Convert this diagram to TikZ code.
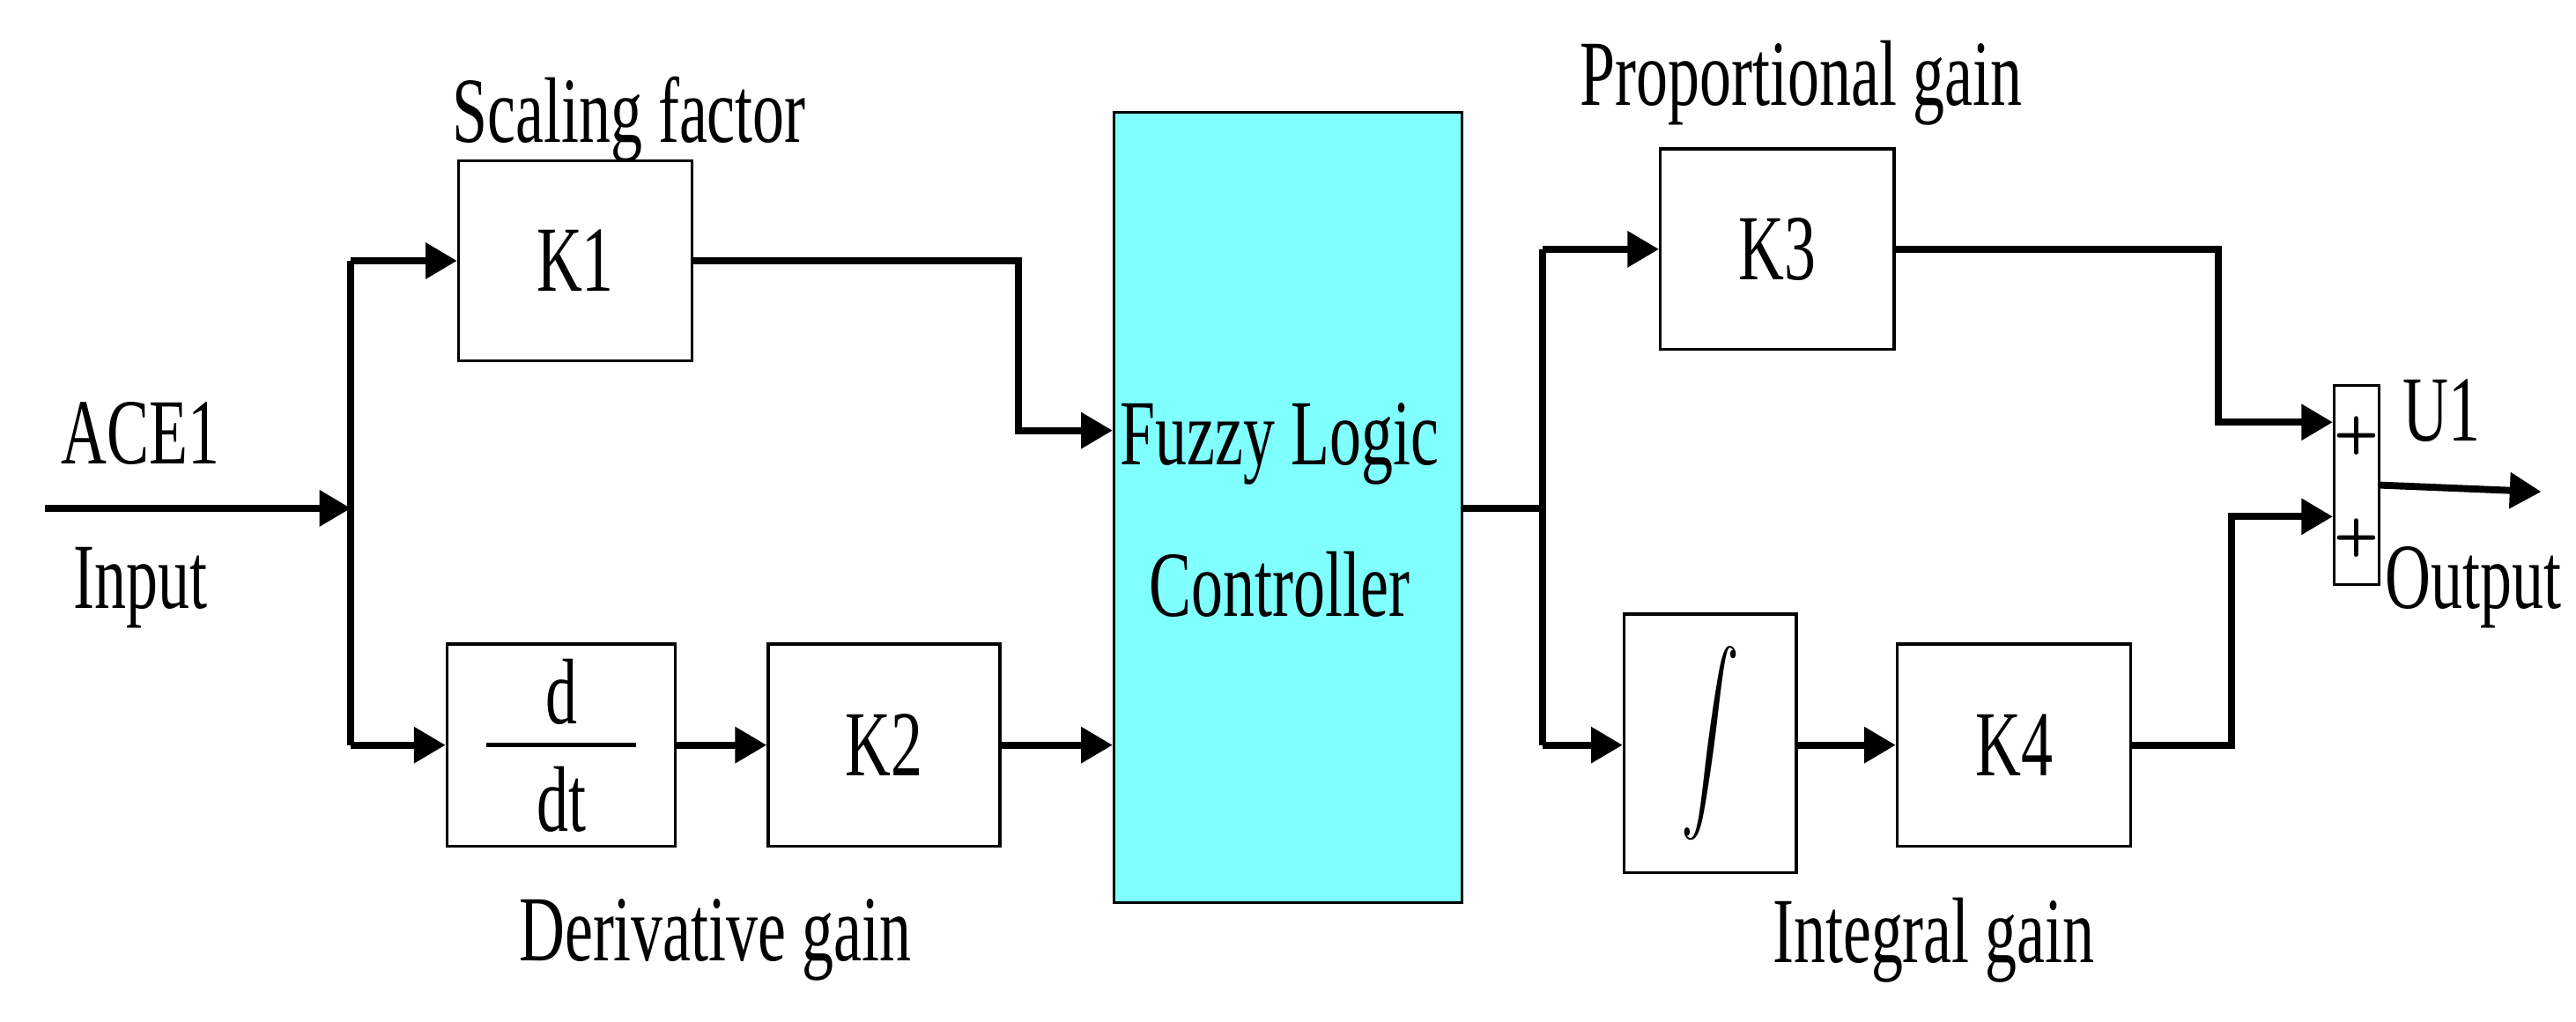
\documentclass[tikz,border=0pt]{standalone}
\usepackage{fontspec}
\setmainfont{Liberation Serif}
\usetikzlibrary{arrows.meta,calc}
\definecolor{flc}{RGB}{128,255,255}
\begin{document}
\begin{tikzpicture}[x=0.01cm,y=-0.01cm,
  box/.style={draw,line width=0.5pt,inner sep=0pt,fill=white},
  wire/.style={line width=1.2pt},
  arr/.style={wire,-{Triangle[length=0.19cm,width=0.21cm]}},
  lbl/.style={font=\fontsize{16}{19}\selectfont,inner sep=0pt},
  plus/.style={font=\sffamily\bfseries\fontsize{9}{11}\selectfont,inner sep=0pt}]
\useasboundingbox (0,0) rectangle (1556,617);
\newcommand{\cz}[1]{\scalebox{0.68}[1]{#1}}
% boxes
\node[box,minimum width=1.41cm,minimum height=1.21cm] (k1) at (347.5,157.5) {\cz{\fontsize{16}{19}\selectfont K1}};
\node[box,minimum width=1.38cm,minimum height=1.22cm] (dd) at (339,450) {};
\node[lbl] (dtop) at (339,418) {\cz{d}};
\node[lbl] (dbot) at (339,483) {\cz{dt}};
\draw[line width=0.8pt] (294,450) -- (384,450);
\node[box,minimum width=1.40cm,minimum height=1.22cm] (k2) at (534,450) {\cz{\fontsize{16}{19}\selectfont K2}};
\node[box,fill=flc,minimum width=2.10cm,minimum height=4.77cm] (flc) at (778,306.5) {};
\node[lbl,align=center] (flct) at (773,308) {\cz{Fuzzy Logic}\\[0.25cm]\cz{Controller}};
\node[box,minimum width=1.41cm,minimum height=1.21cm] (k3) at (1073.5,150.5) {\cz{\fontsize{16}{19}\selectfont K3}};
\node[box,minimum width=1.04cm,minimum height=1.56cm] (int) at (1033,449) {\scalebox{1}[1.5]{\fontsize{24}{28}\selectfont$\displaystyle\int$}};
\node[box,minimum width=1.41cm,minimum height=1.22cm] (k4) at (1216.5,450) {\cz{\fontsize{16}{19}\selectfont K4}};
\node[box,minimum width=0.27cm,minimum height=1.20cm] (sum) at (1423.5,293) {};
\node[plus] (p1) at (1423.5,263) {+};
\node[plus] (p2) at (1423.5,325) {+};
% coordinates
\coordinate (in) at (27,307);
\coordinate (j1) at (212,307);
\coordinate (j1t) at (212,157.5);
\coordinate (j1b) at (212,450);
\coordinate (j2) at (932,307);
\coordinate (j2t) at (932,150.5);
\coordinate (j2b) at (932,450);
\coordinate (out) at (1535,297);
% wires
\draw[arr] (in) -- (j1);
\draw[wire] (j1t) -- (j1b);
\draw[arr] (j1t) -- (k1.west);
\draw[arr] (j1b) -- (dd.west);
\draw[arr] (k1.east) -| (615,260) -- (flc.west |- 0,260);
\draw[arr] (dd.east) -- (k2.west);
\draw[arr] (k2.east) -- (flc.west |- k2.east);
\draw[wire] (flc.east |- j2) -- (j2);
\draw[wire] (j2t) -- (j2b);
\draw[arr] (j2t) -- (k3.west);
\draw[arr] (j2b) -- (int.west |- j2b);
\draw[arr] (int.east |- k4.west) -- (k4.west);
\draw[arr] (k3.east) -| (1340,255) -- (sum.west |- 0,255);
\draw[arr] (k4.east) -| (1348,312) -- (sum.west |- 0,312);
\draw[arr] (sum.east |- 0,293) -- (out);
% labels
\node[lbl] (l1) at (380,72) {\cz{Scaling factor}};
\node[lbl] (l2) at (85,262) {\cz{ACE1}};
\node[lbl] (l3) at (85,355) {\cz{Input}};
\node[lbl] (l4) at (432,568) {\cz{Derivative gain}};
\node[lbl] (l5) at (1088,50) {\cz{Proportional gain}};
\node[lbl] (l6) at (1168,568) {\cz{Integral gain}};
\node[lbl] (l7) at (1475,248) {\cz{U1}};
\node[lbl] (l8) at (1494,355) {\cz{Output}};
\end{tikzpicture}
\end{document}
